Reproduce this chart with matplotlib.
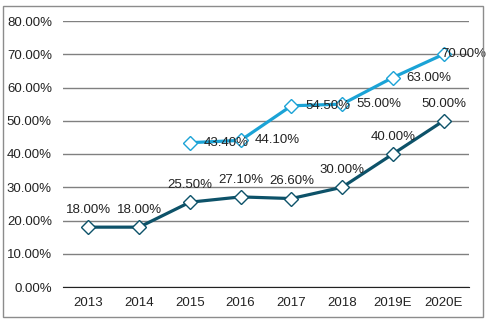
import matplotlib
matplotlib.use('Agg')
import matplotlib.pyplot as plt
from matplotlib.patches import Rectangle
import numpy as np

years = ['2013', '2014', '2015', '2016', '2017', '2018', '2019E', '2020E']
rate_a = [18.0, 18.0, 25.5, 27.1, 26.6, 30.0, 40.0, 50.0]
rate_b = [np.nan, np.nan, 43.4, 44.1, 54.5, 55.0, 63.0, 70.0]
yticks = [0, 10, 20, 30, 40, 50, 60, 70, 80]

dark = '#0d5269'
light = '#1ba3d6'

plt.rcParams['font.family'] = ['Liberation Sans', 'DejaVu Sans']
plt.rcParams['font.size'] = 9.5

fig = plt.figure(figsize=(4.89, 3.22), dpi=100)
ax = fig.add_axes([63/489, 1 - 287/322, 406/489, 266/322])

# outer chart border
fig.patches.append(Rectangle((3/489, 1 - 317/322), 480/489, 311/322,
                             transform=fig.transFigure, fill=False,
                             edgecolor='#8c8c8c', linewidth=1))

x = np.arange(len(years))
ax.plot(x, rate_a, color=dark, linewidth=2.3, marker='D', markersize=7.5,
        markerfacecolor='white', markeredgecolor=dark, markeredgewidth=1, zorder=3)
ax.plot(x, rate_b, color=light, linewidth=2.3, marker='D', markersize=7.5,
        markerfacecolor='white', markeredgecolor=light, markeredgewidth=1, zorder=3)

for i, v in enumerate(rate_a):
    ax.annotate(f'{v:.2f}%', (i, v), xytext=(0, 8), textcoords='offset points',
                ha='center', va='bottom', color='#222222', zorder=4)

for i, v in enumerate(rate_b):
    if np.isnan(v):
        continue
    dx = 10 if i < len(years) - 1 else -2
    ax.annotate(f'{v:.2f}%', (i, v), xytext=(dx, 0), textcoords='offset points',
                ha='left', va='center', color='#222222', zorder=4)

ax.set_xlim(-0.5, len(years) - 0.5)
ax.set_ylim(0, 80)
ax.set_yticks(yticks)
ax.set_yticklabels([f'{t:.2f}%' for t in yticks])
ax.set_xticks(x)
ax.set_xticklabels(years)
ax.yaxis.grid(True, color='#808080', linewidth=1)
ax.set_axisbelow(True)
for s in ['left', 'right', 'top']:
    ax.spines[s].set_visible(False)
ax.spines['bottom'].set_color('#222222')
ax.tick_params(axis='both', length=0, colors='#222222')
ax.tick_params(axis='y', pad=8)
ax.tick_params(axis='x', pad=7)

fig.savefig('out.png', dpi=100)
